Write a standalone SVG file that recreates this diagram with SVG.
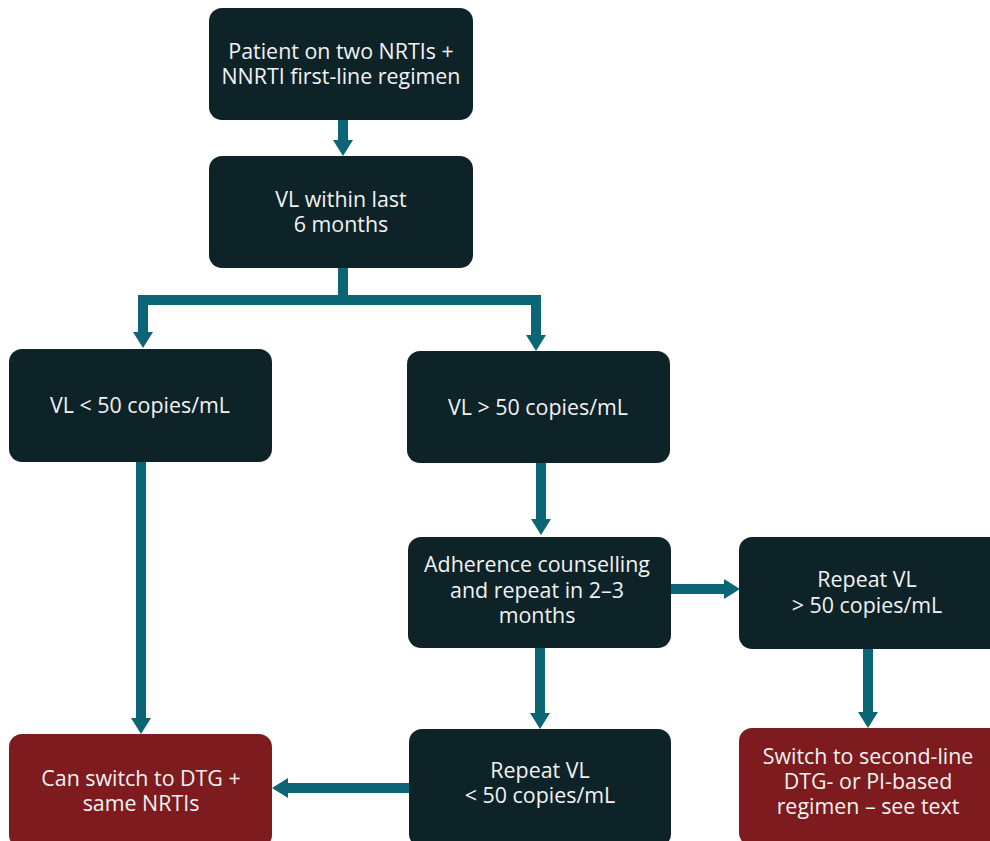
<svg xmlns="http://www.w3.org/2000/svg" width="990" height="841" viewBox="0 0 990 841">
<style>
.box{fill:#0E2328;}
.red{fill:#7D1B1F;}
.t{font-family:"Open Sans","Noto Sans",sans-serif;font-size:21.4px;fill:#F2F2F2;text-anchor:middle;}
.c{fill:none;stroke:#0B6575;stroke-width:10;stroke-linejoin:miter;marker-end:url(#ah);}
</style>
<defs>
<marker id="ah" viewBox="0 0 16 20" refX="0" refY="10" markerWidth="16" markerHeight="20" markerUnits="userSpaceOnUse" orient="auto">
<path d="M0,0 L16,10 L0,20 Z" fill="#0B6575"/>
</marker>
</defs>
<rect width="990" height="841" fill="#FFFFFF"/>
<g id="connectors">
<path class="c" d="M343,120 V140"/>
<path class="c" d="M343,268 V300 H143 V332"/>
<path class="c" d="M343,300 H536 V335"/>
<path class="c" d="M541,463 V519"/>
<path class="c" d="M671,589 H724"/>
<path class="c" d="M540,648 V713"/>
<path class="c" d="M868,649 V712"/>
<path class="c" d="M141,462 V718"/>
<path class="c" d="M409,788 H288"/>
</g>
<g id="n1"><rect class="box" x="209" y="8" width="264" height="112" rx="13"/>
<text class="t" x="341" y="59">Patient on two NRTIs +</text><text class="t" x="341" y="84">NNRTI first-line regimen</text></g>
<g id="n2"><rect class="box" x="209" y="156" width="264" height="112" rx="13"/>
<text class="t" x="341" y="207">VL within last</text><text class="t" x="341" y="232">6 months</text></g>
<g id="n3"><rect class="box" x="9" y="349" width="263" height="113" rx="13"/>
<text class="t" x="140" y="413">VL &lt; 50 copies/mL</text></g>
<g id="n4"><rect class="box" x="407" y="351" width="263" height="112" rx="13"/>
<text class="t" x="538" y="415">VL &gt; 50 copies/mL</text></g>
<g id="n5"><rect class="box" x="408" y="537" width="263" height="111" rx="13"/>
<text class="t" x="537" y="572">Adherence counselling</text><text class="t" x="537" y="598">and repeat in 2–3</text><text class="t" x="537" y="623">months</text></g>
<g id="n6"><rect class="box" x="739" y="537" width="263" height="112" rx="13"/>
<text class="t" x="867" y="587">Repeat VL</text><text class="t" x="867" y="613">&gt; 50 copies/mL</text></g>
<g id="n7"><rect class="red" x="9" y="734" width="263" height="114" rx="13"/>
<text class="t" x="141" y="786">Can switch to DTG +</text><text class="t" x="141" y="811">same NRTIs</text></g>
<g id="n8"><rect class="box" x="409" y="729" width="262" height="118" rx="13"/>
<text class="t" x="540" y="778">Repeat VL</text><text class="t" x="540" y="803">&lt; 50 copies/mL</text></g>
<g id="n9"><rect class="red" x="739" y="728" width="263" height="118" rx="13"/>
<text class="t" x="868" y="764">Switch to second-line</text><text class="t" x="868" y="789">DTG- or PI-based</text><text class="t" x="868" y="814">regimen – see text</text></g>
</svg>
